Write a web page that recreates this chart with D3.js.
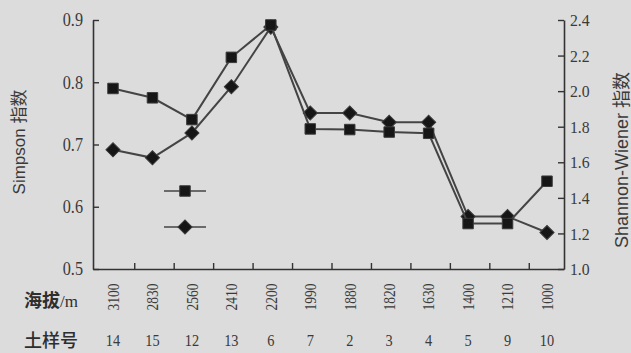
<!DOCTYPE html>
<html><head><meta charset="utf-8">
<script src="https://cdn.jsdelivr.net/npm/d3@7"></script>
<style>html,body{margin:0;padding:0;background:#dcdcdc;overflow:hidden}</style>
</head><body><svg id="c" width="631" height="353"></svg>
<script>
const altitudes = ["3100","2830","2560","2410","2200","1990","1880","1820","1630","1400","1210","1000"];
const samples = ["14","15","12","13","6","7","2","3","4","5","9","10"];
const simpson = [0.790, 0.775, 0.740, 0.840, 0.892, 0.725, 0.724, 0.720, 0.718, 0.573, 0.573, 0.641];
const shannon = [1.670, 1.625, 1.765, 2.025, 2.360, 1.877, 1.877, 1.825, 1.825, 1.295, 1.295, 1.205];
const leftTicks = [0.5, 0.6, 0.7, 0.8, 0.9];
const rightTicks = [1.0, 1.2, 1.4, 1.6, 1.8, 2.0, 2.2, 2.4];
const leftTitle = "Simpson 指数";
const rightTitle = "Shannon-Wiener 指数";
const rowLabel1 = "海拔";
const rowLabel1Unit = "/m";
const rowLabel2 = "土样号";

const W = 631, H = 353;
const xL = 93, xR = 564, yTop = 20, yBot = 269;
const ink = "#333", txt = "#3a3a3a";
const serif = "'Liberation Serif','Times New Roman',serif";
const sans = "'Liberation Sans',Arial,'Noto Sans CJK SC',sans-serif";
const cjk = "'Noto Sans CJK SC',sans-serif";

const svg = d3.select("#c");
svg.append("rect").attr("width", W).attr("height", H).attr("fill", "#dcdcdc");

const x = d3.scalePoint().domain(altitudes).range([113, 547]);
const yLs = d3.scaleLinear().domain([0.5, 0.9]).range([yBot, yTop]);
const yRs = d3.scaleLinear().domain([1.0, 2.4]).range([yBot, yTop]);

// left axis (ticks inward)
const gL = svg.append("g").attr("transform", `translate(${xL},0)`)
  .call(d3.axisLeft(yLs).tickValues(leftTicks).tickSizeInner(-6).tickSizeOuter(0).tickFormat(""));
// right axis (ticks inward)
const gR = svg.append("g").attr("transform", `translate(${xR},0)`)
  .call(d3.axisRight(yRs).tickValues(rightTicks).tickSizeInner(-6).tickSizeOuter(0).tickFormat(""));
[gL, gR].forEach(g => {
  g.selectAll("path.domain").attr("stroke", ink).attr("stroke-width", 1.6);
  g.selectAll(".tick line").attr("stroke", ink).attr("stroke-width", 1.4);
});

// bottom axis with ticks between categories
const mids = altitudes.slice(0, -1).map((a, i) => (x(a) + x(altitudes[i + 1])) / 2 + 1.5);
const xb = d3.scaleLinear().domain([xL, xR]).range([xL, xR]);
const gB = svg.append("g").attr("transform", `translate(0,${yBot})`)
  .call(d3.axisBottom(xb).tickValues(mids).tickSizeInner(-6).tickSizeOuter(0).tickFormat(""));
gB.selectAll("path.domain").attr("stroke", ink).attr("stroke-width", 1.6);
gB.selectAll(".tick line").attr("stroke", ink).attr("stroke-width", 1.4);

// tick labels
svg.append("g").selectAll("text").data(leftTicks).join("text")
  .attr("transform", d => `translate(83,${yLs(d)}) scale(0.9,1)`)
  .attr("text-anchor", "end").attr("dy", "0.35em")
  .attr("font-family", serif).attr("font-size", 18).attr("fill", txt)
  .text(d => d.toFixed(1));
svg.append("g").selectAll("text").data(rightTicks).join("text")
  .attr("transform", d => `translate(570,${yRs(d)}) scale(0.9,1)`)
  .attr("text-anchor", "start").attr("dy", "0.35em")
  .attr("font-family", serif).attr("font-size", 17.5).attr("fill", txt)
  .text(d => d.toFixed(1));

// rotated altitude labels
svg.append("g").selectAll("text").data(altitudes).join("text")
  .attr("transform", d => `translate(${x(d)},297) rotate(-90) scale(0.82,1)`)
  .attr("text-anchor", "middle").attr("dy", "0.35em")
  .attr("font-family", serif).attr("font-size", 16.5).attr("fill", txt)
  .text(d => d);
// sample numbers
svg.append("g").selectAll("text").data(altitudes).join("text")
  .attr("transform", (d) => `translate(${x(d)},346) scale(0.82,1)`)
  .attr("text-anchor", "middle")
  .attr("font-family", serif).attr("font-size", 17.5).attr("fill", txt)
  .text((d, i) => samples[i]);

// row labels
const r1 = svg.append("text").attr("x", 24).attr("y", 307).attr("fill", "#2e2e2e");
r1.append("tspan").attr("font-family", cjk).attr("font-weight", 700).attr("font-size", 18).text(rowLabel1);
r1.append("tspan").attr("font-family", serif).attr("font-size", 17).text(rowLabel1Unit);
svg.append("text").attr("x", 24).attr("y", 347).attr("fill", "#2e2e2e")
  .attr("font-family", cjk).attr("font-weight", 500).attr("font-size", 18).text(rowLabel2);

// axis titles
svg.append("text").attr("transform", "translate(19,142) rotate(-90)")
  .attr("text-anchor", "middle").attr("dy", "0.35em")
  .attr("font-family", sans).attr("font-size", 17).attr("fill", txt).text(leftTitle);
svg.append("text").attr("transform", "translate(622,160) rotate(-90)")
  .attr("text-anchor", "middle").attr("dy", "0.35em")
  .attr("font-family", sans).attr("font-size", 18).attr("fill", txt).text(rightTitle);

// series
const lineS = d3.line().x((d, i) => x(altitudes[i])).y(d => yLs(d));
const lineH = d3.line().x((d, i) => x(altitudes[i])).y(d => yRs(d));
const sq = d3.symbol().type(d3.symbolSquare).size(110);
const dm = d3.symbol().type(d3.symbolSquare).size(100);

svg.append("path").datum(shannon).attr("d", lineH)
  .attr("fill", "none").attr("stroke", "#444").attr("stroke-width", 2);
svg.append("g").selectAll("path").data(shannon).join("path")
  .attr("d", dm).attr("transform", (d, i) => `translate(${x(altitudes[i])},${yRs(d)}) rotate(45)`)
  .attr("fill", "#161616").attr("stroke", "#3a3a3a").attr("stroke-width", 1);

svg.append("path").datum(simpson).attr("d", lineS)
  .attr("fill", "none").attr("stroke", "#444").attr("stroke-width", 2);
svg.append("g").selectAll("path").data(simpson).join("path")
  .attr("d", sq).attr("transform", (d, i) => `translate(${x(altitudes[i])},${yLs(d)})`)
  .attr("fill", "#161616").attr("stroke", "#3a3a3a").attr("stroke-width", 1);

// legend (markers only)
const leg = svg.append("g");
leg.append("line").attr("x1", 164).attr("x2", 206).attr("y1", 191).attr("y2", 191).attr("stroke", "#444").attr("stroke-width", 1.6);
leg.append("path").attr("d", sq).attr("transform", "translate(185,191)").attr("fill", "#161616").attr("stroke", "#3a3a3a");
leg.append("line").attr("x1", 164).attr("x2", 206).attr("y1", 227).attr("y2", 227).attr("stroke", "#444").attr("stroke-width", 1.6);
leg.append("path").attr("d", dm).attr("transform", "translate(185,227) rotate(45)").attr("fill", "#161616").attr("stroke", "#3a3a3a");
</script></body></html>
